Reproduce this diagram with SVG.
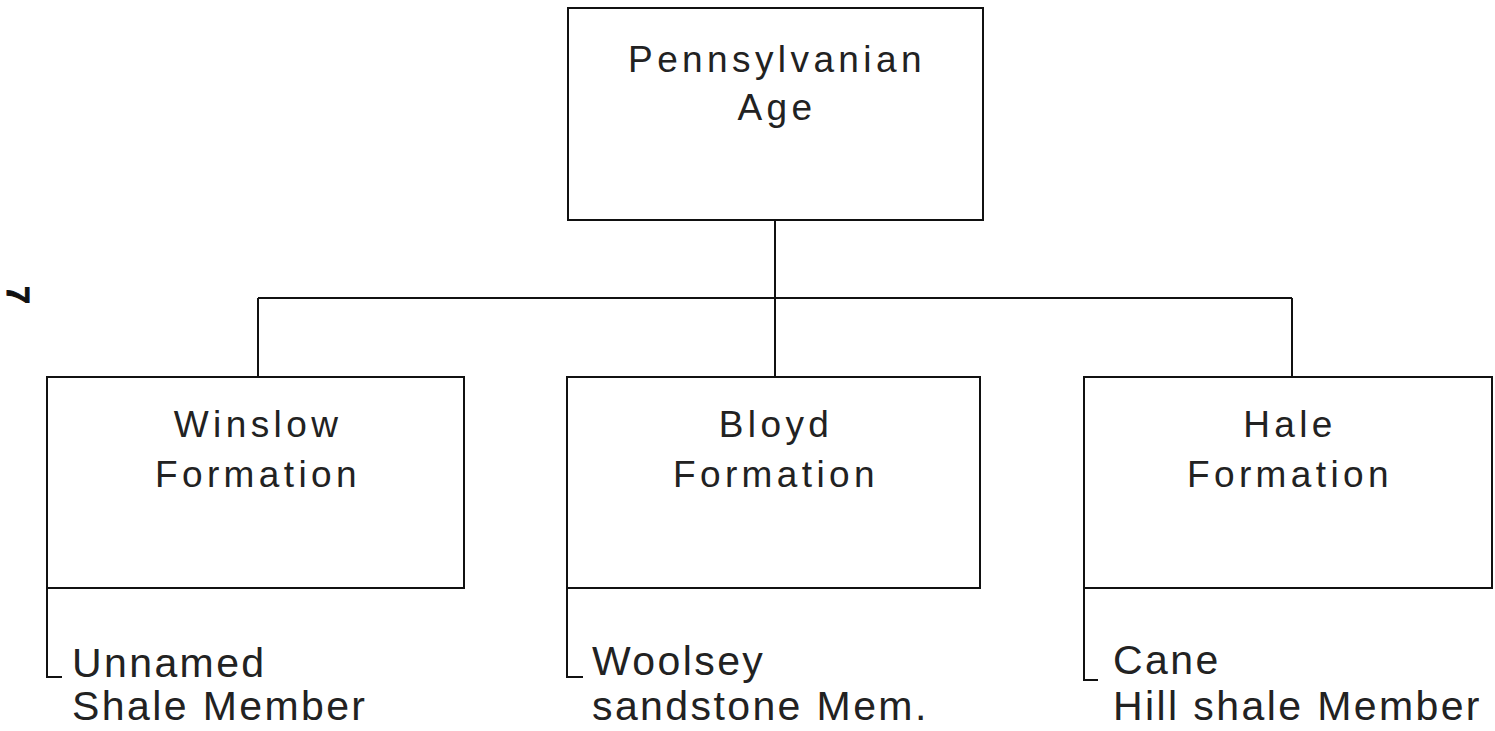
<svg xmlns="http://www.w3.org/2000/svg" width="1495" height="731" viewBox="0 0 1495 731">
<style>
.box{fill:none;stroke:#111;stroke-width:2}
.ln{fill:none;stroke:#111;stroke-width:2}
.t{font-family:"Liberation Sans",Arial,sans-serif;font-size:37px;letter-spacing:4.4px;fill:#222;text-anchor:middle}
.m{font-family:"Liberation Sans",Arial,sans-serif;font-size:41px;letter-spacing:2.4px;fill:#222}
</style>
<rect width="1495" height="731" fill="#fff"/>
<g id="connectors">
<path class="ln" d="M775 220V298M258 298H1292M258 298V377M775 298V377M1292 298V377"/>
</g>
<g id="pennsylvanian">
<rect class="box" x="568" y="8" width="415" height="212"/>
<text class="t" x="777" y="72">Pennsylvanian</text>
<text class="t" x="777" y="120">Age</text>
</g>
<g id="winslow">
<rect class="box" x="47" y="377" width="417" height="211"/>
<text class="t" x="258" y="437">Winslow</text>
<text class="t" x="258" y="487">Formation</text>
</g>
<g id="bloyd">
<rect class="box" x="567" y="377" width="413" height="211"/>
<text class="t" x="776" y="437">Bloyd</text>
<text class="t" x="776" y="487">Formation</text>
</g>
<g id="hale">
<rect class="box" x="1084" y="377" width="408" height="211"/>
<text class="t" x="1290" y="437">Hale</text>
<text class="t" x="1290" y="487">Formation</text>
</g>
<g id="unnamed-member">
<path class="ln" d="M47 588V677H62"/>
<text class="m" x="72" y="677">Unnamed</text>
<text class="m" x="72" y="720">Shale Member</text>
</g>
<g id="woolsey-member">
<path class="ln" d="M567 588V677H583"/>
<text class="m" x="592" y="675">Woolsey</text>
<text class="m" x="592" y="720">sandstone Mem.</text>
</g>
<g id="cane-hill-member">
<path class="ln" d="M1084 588V680H1098"/>
<text class="m" x="1113" y="674">Cane</text>
<text class="m" x="1113" y="720">Hill shale Member</text>
</g>
<text x="7" y="286" transform="rotate(90 7 286)" font-family="Liberation Sans,Arial,sans-serif" font-size="32" font-weight="bold" fill="#111" stroke="#111" stroke-width="1">7</text>
</svg>
